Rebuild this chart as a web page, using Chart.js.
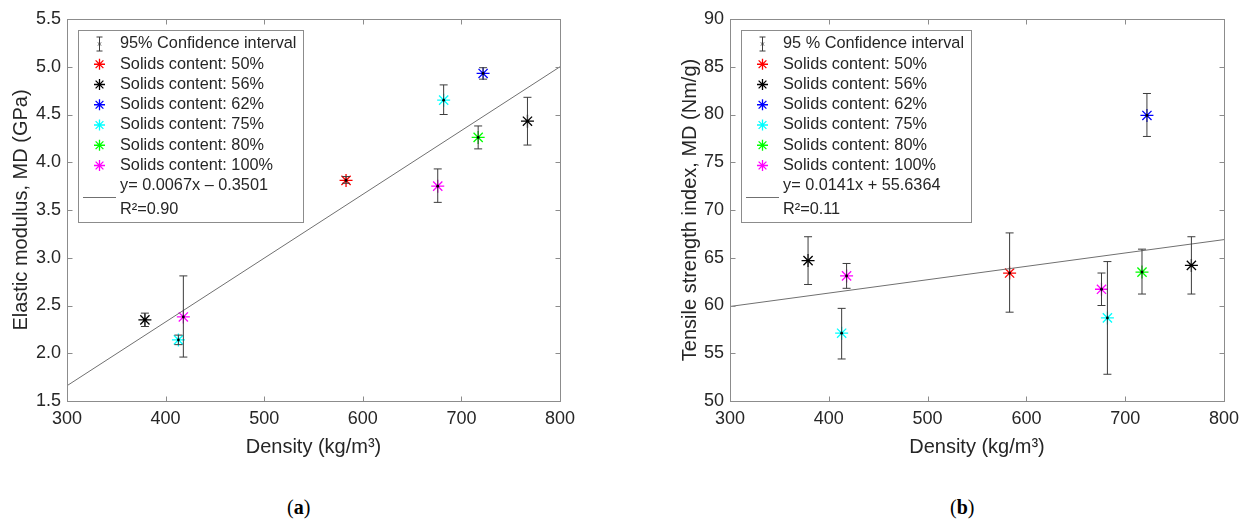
<!DOCTYPE html>
<html>
<head>
<meta charset="utf-8">
<script src="https://cdn.jsdelivr.net/npm/chart.js@4.4.1/dist/chart.umd.min.js"></script>
<style>
  html, body { margin: 0; padding: 0; background: #fff; }
  #wrap { position: relative; width: 1247px; height: 522px; overflow: hidden; }
  canvas { position: absolute; top: 0; }
  #chartA { left: 0; }
  #chartB { left: 620px; }
  .cap { position: absolute; top: 494px; line-height: 26px; font-family: "Liberation Serif", "DejaVu Serif", serif; font-size: 20px; color: #000; }
</style>
</head>
<body>
<div id="wrap">
  <canvas id="chartA" width="620" height="470"></canvas>
  <canvas id="chartB" width="627" height="470"></canvas>
  <div class="cap" style="left:287px">(<b>a</b>)</div>
  <div class="cap" style="left:950px">(<b>b</b>)</div>
</div>
<script>
// series: one entry per solids content, each with 1 or 2 samples
const solidsLabels = ['Solids content: 50%', 'Solids content: 56%', 'Solids content: 62%',
                      'Solids content: 75%', 'Solids content: 80%', 'Solids content: 100%'];
const solidsColors = ['#ff0000', '#000000', '#0000ff', '#00ffff', '#00ff00', '#ff00ff'];
const density = [[583], [379, 767], [722], [413, 682], [717], [418, 676]];

// (a) elastic modulus, GPa
const modulus     = [[3.81], [2.35, 4.43], [4.93], [2.14, 4.65], [4.26], [2.38, 3.75]];
const modulusLow  = [[3.78], [2.28, 4.18], [4.87], [2.09, 4.50], [4.14], [1.96, 3.58]];
const modulusHigh = [[3.85], [2.42, 4.68], [4.99], [2.19, 4.81], [4.38], [2.81, 3.93]];

// (b) tensile strength index, Nm/g
const tensile     = [[63.4], [64.7, 64.2], [79.9], [57.1, 58.7], [63.5], [63.1, 61.7]];
const tensileLow  = [[59.3], [62.2, 61.2], [77.7], [54.4, 52.8], [61.2], [61.8, 60.0]];
const tensileHigh = [[67.6], [67.2, 67.2], [82.2], [59.7, 64.6], [65.9], [64.4, 63.4]];

// fitted lines, end points
const fitX = [300, 800];
const fitModulus = [1.66, 5.00];
const fitTensile = [59.9, 66.9];

const FONT = "'Liberation Sans', Arial, Helvetica, sans-serif";
const TEXT = '#262626';
const AXIS = '#8c8c8c';
const BAR = '#3c3c3c';

function star(ctx, x, y, r, color) {
  const d = r * Math.SQRT1_2;
  ctx.strokeStyle = color;
  ctx.lineWidth = 1.3;
  ctx.beginPath();
  ctx.moveTo(x - r, y); ctx.lineTo(x + r, y);
  ctx.moveTo(x, y - r); ctx.lineTo(x, y + r);
  ctx.moveTo(x - d, y - d); ctx.lineTo(x + d, y + d);
  ctx.moveTo(x - d, y + d); ctx.lineTo(x + d, y - d);
  ctx.stroke();
}

const errorBars = {
  id: 'errorBars',
  afterDatasetsDraw(chart) {
    const ctx = chart.ctx, xs = chart.scales.x, ys = chart.scales.y;
    ctx.save();
    chart.data.datasets.forEach(ds => {
      if (!ds.low) return;
      ds.data.forEach((p, i) => {
        const px = xs.getPixelForValue(p.x);
        const y1 = ys.getPixelForValue(ds.low[i]), y2 = ys.getPixelForValue(ds.high[i]);
        ctx.strokeStyle = BAR;
        ctx.lineWidth = 1;
        ctx.beginPath();
        ctx.moveTo(px, y1); ctx.lineTo(px, y2);
        ctx.moveTo(px - 4, y1); ctx.lineTo(px + 4, y1);
        ctx.moveTo(px - 4, y2); ctx.lineTo(px + 4, y2);
        ctx.stroke();
        ctx.fillStyle = '#000';
        ctx.beginPath();
        ctx.arc(px, ys.getPixelForValue(p.y), 1.4, 0, Math.PI * 2);
        ctx.fill();
      });
    });
    ctx.restore();
  }
};

// box with inward ticks + legend box, matlab style
const boxAndLegend = {
  id: 'boxAndLegend',
  afterDraw(chart, args, opts) {
    const ctx = chart.ctx, a = chart.chartArea;
    const xs = chart.scales.x, ys = chart.scales.y;
    ctx.save();
    ctx.strokeStyle = AXIS;
    ctx.lineWidth = 1;
    const L = Math.round(a.left) + 0.5, R = Math.round(a.right) + 0.5;
    const T = Math.round(a.top) + 0.5, B = Math.round(a.bottom) + 0.5;
    ctx.strokeRect(L, T, R - L, B - T);
    ctx.beginPath();
    xs.ticks.forEach(t => {
      const x = Math.round(xs.getPixelForValue(t.value)) + 0.5;
      ctx.moveTo(x, B); ctx.lineTo(x, B - 5);
      ctx.moveTo(x, T); ctx.lineTo(x, T + 5);
    });
    ys.ticks.forEach(t => {
      const y = Math.round(ys.getPixelForValue(t.value)) + 0.5;
      ctx.moveTo(L, y); ctx.lineTo(L + 5, y);
      ctx.moveTo(R, y); ctx.lineTo(R - 5, y);
    });
    ctx.stroke();

    // legend
    ctx.font = '16.3px ' + FONT;
    const texts = [opts.ciLabel].concat(solidsLabels, [opts.fitLabel, opts.r2Label]);
    let w = 0;
    texts.forEach(t => { w = Math.max(w, ctx.measureText(t).width); });
    const left = Math.round(a.left + 11), top = Math.round(a.top + 11);
    const boxW = Math.round(42 + w + 7), boxH = 192;
    ctx.fillStyle = '#fff';
    ctx.fillRect(left, top, boxW, boxH);
    ctx.strokeStyle = AXIS;
    ctx.strokeRect(left + 0.5, top + 0.5, boxW, boxH);
    const ix = left + 21.5, tx = left + 42;
    const rowY = i => top + 14 + i * 20.25;
    ctx.textBaseline = 'middle';
    ctx.textAlign = 'left';
    ctx.fillStyle = TEXT;
    // error bar symbol
    const y0 = rowY(0);
    ctx.strokeStyle = BAR;
    ctx.beginPath();
    ctx.moveTo(ix, y0 - 7); ctx.lineTo(ix, y0 + 7);
    ctx.moveTo(ix - 3, y0 - 7); ctx.lineTo(ix + 3, y0 - 7);
    ctx.moveTo(ix - 3, y0 + 7); ctx.lineTo(ix + 3, y0 + 7);
    ctx.moveTo(ix - 1.5, y0 - 1.5); ctx.lineTo(ix + 1.5, y0 + 1.5);
    ctx.moveTo(ix - 1.5, y0 + 1.5); ctx.lineTo(ix + 1.5, y0 - 1.5);
    ctx.stroke();
    ctx.fillText(opts.ciLabel, tx, y0);
    solidsLabels.forEach((lab, i) => {
      star(ctx, ix, rowY(i + 1), 5.5, solidsColors[i]);
      ctx.fillText(lab, tx, rowY(i + 1));
    });
    ctx.fillText(opts.fitLabel, tx, rowY(7));
    ctx.fillText(opts.r2Label, tx, top + 180);
    ctx.strokeStyle = '#707070';
    ctx.lineWidth = 1;
    ctx.beginPath();
    ctx.moveTo(left + 5, top + 167.5); ctx.lineTo(left + 38, top + 167.5);
    ctx.stroke();
    ctx.restore();
  }
};

function makeChart(id, vals, low, high, fitY, yOpts) {
  const datasets = solidsLabels.map((lab, i) => ({
    type: 'scatter',
    label: lab,
    data: density[i].map((d, j) => ({ x: d, y: vals[i][j] })),
    low: low[i],
    high: high[i],
    pointStyle: 'star',
    pointRadius: 6.5,
    borderWidth: 1.3,
    borderColor: solidsColors[i],
    backgroundColor: solidsColors[i]
  }));
  datasets.unshift({
    type: 'line',
    label: 'fit',
    data: fitX.map((x, j) => ({ x: x, y: fitY[j] })),
    borderColor: '#707070',
    borderWidth: 1,
    pointRadius: 0,
    fill: false
  });
  return new Chart(document.getElementById(id), {
    type: 'scatter',
    data: { datasets: datasets },
    options: {
      responsive: false,
      animation: false,
      events: [],
      layout: { padding: { top: 19, right: yOpts.padRight, left: 0, bottom: 0 } },
      plugins: {
        legend: { display: false },
        tooltip: { enabled: false },
        boxAndLegend: { ciLabel: yOpts.ciLabel, fitLabel: yOpts.fitLabel, r2Label: yOpts.r2Label }
      },
      scales: {
        x: {
          type: 'linear', min: 300, max: 800,
          grid: { display: false, drawTicks: false },
          border: { display: false },
          ticks: { stepSize: 100, padding: 7, color: TEXT, font: { family: FONT, size: 18 } },
          title: { display: true, text: 'Density (kg/m³)', color: TEXT,
                   font: { family: FONT, size: 20 }, padding: { top: 0, bottom: 11 } },
          afterFit: s => { s.height = 69; }
        },
        y: {
          type: 'linear', min: yOpts.min, max: yOpts.max,
          grid: { display: false, drawTicks: false },
          border: { display: false },
          ticks: { stepSize: yOpts.step, padding: 6, color: TEXT, font: { family: FONT, size: 18 },
                   callback: yOpts.fmt },
          title: { display: true, text: yOpts.title, color: TEXT,
                   font: { family: FONT, size: 20 }, padding: { top: yOpts.titlePad, bottom: 0 } },
          afterFit: s => { s.width = yOpts.width; }
        }
      }
    },
    plugins: [errorBars, boxAndLegend]
  });
}

makeChart('chartA', modulus, modulusLow, modulusHigh, fitModulus, {
  min: 1.5, max: 5.5, step: 0.5, fmt: v => v.toFixed(1),
  title: 'Elastic modulus, MD (GPa)', titlePad: 9, width: 67, padRight: 60,
  ciLabel: '95% Confidence interval', fitLabel: 'y= 0.0067x – 0.3501', r2Label: 'R²=0.90'
});

makeChart('chartB', tensile, tensileLow, tensileHigh, fitTensile, {
  min: 50, max: 90, step: 5, fmt: v => String(v),
  title: 'Tensile strength index, MD (Nm/g)', titlePad: 58, width: 110, padRight: 23,
  ciLabel: '95 % Confidence interval', fitLabel: 'y= 0.0141x + 55.6364', r2Label: 'R²=0.11'
});
</script>
</body>
</html>
